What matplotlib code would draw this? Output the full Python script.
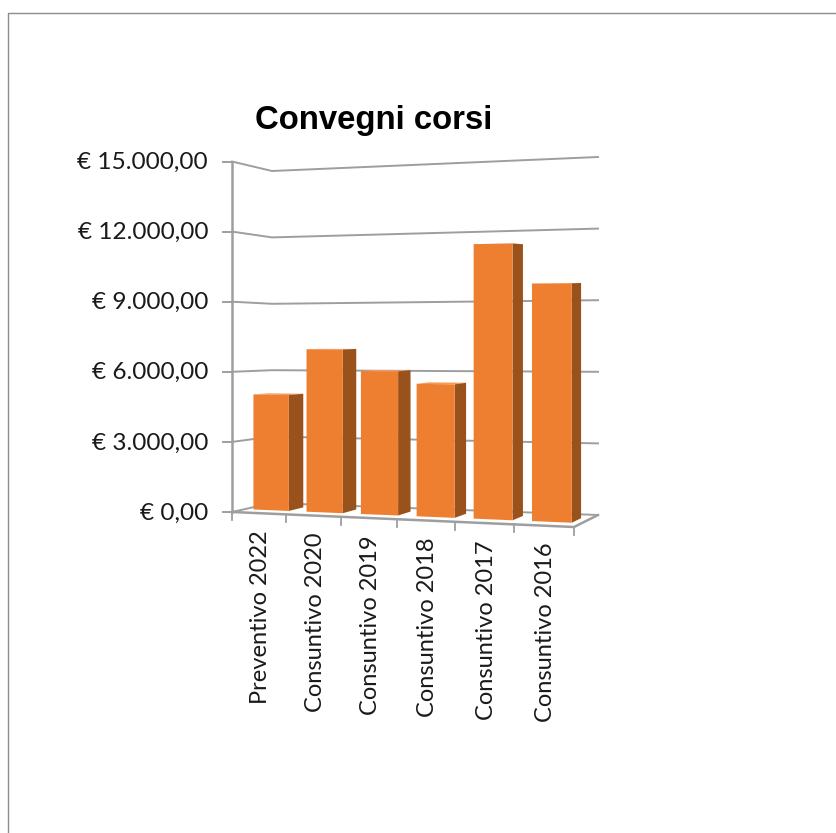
import matplotlib
matplotlib.use("Agg")
import matplotlib.pyplot as plt
from matplotlib.patches import Polygon

categories = ["Preventivo 2022", "Consuntivo 2020", "Consuntivo 2019",
              "Consuntivo 2018", "Consuntivo 2017", "Consuntivo 2016"]
values = [5000, 6980, 6070, 5560, 11390, 9740]
tick_values = [0, 3000, 6000, 9000, 12000, 15000]
tick_labels = ["€ 0,00", "€ 3.000,00", "€ 6.000,00", "€ 9.000,00", "€ 12.000,00", "€ 15.000,00"]
title = "Convegni corsi"

ORANGE = "#ee7f31"
ORANGE_DARK = "#9a521c"
ORANGE_TOP = "#f49a5c"
GRID = "#9e9e9e"
BORDER = "#8c8c8c"

# floor corners in pixels and wall height for the full value range at each corner
FRONT_L, FRONT_R, BACK_R, BACK_L = (232, 512), (574, 527), (598, 515), (272, 503)
H_FRONT_L, H_FRONT_R, H_BACK_R, H_BACK_L = 350.5, 375, 358, 332


def proj(u, v, value=0):
    # fake 3d view: u along categories, v into the back wall, value goes up
    t = u - 0.07 * u * (1 - u)
    x_front = FRONT_L[0] + (FRONT_R[0] - FRONT_L[0]) * t
    x_back = BACK_L[0] + (BACK_R[0] - BACK_L[0]) * t
    y_front = FRONT_L[1] + (FRONT_R[1] - FRONT_L[1]) * t
    y_back = BACK_L[1] + (BACK_R[1] - BACK_L[1]) * t
    h_front = H_FRONT_L + (H_FRONT_R - H_FRONT_L) * t
    h_back = H_BACK_L + (H_BACK_R - H_BACK_L) * t
    x = x_front + (x_back - x_front) * v
    y = y_front + (y_back - y_front) * v
    h = h_front + (h_back - h_front) * v
    return x, y - value / 15000 * h


fig = plt.figure(figsize=(8.36, 8.33), dpi=100)
ax = fig.add_axes([0, 0, 1, 1])
ax.set_xlim(0, 836)
ax.set_ylim(833, 0)
ax.axis("off")

# chart area border, only top and left fall inside the crop
ax.plot([8, 8, 836], [833, 12.5, 12.5], color=BORDER, lw=1)

# walls
for val in tick_values:
    pts = [proj(0, 0, val), proj(0, 1, val), proj(1, 1, val)]
    ax.plot([p[0] for p in pts], [p[1] for p in pts], color=GRID, lw=1.4, zorder=1)
    x0, y0 = proj(0, 0, val)
    ax.plot([x0 - 9, x0], [y0, y0], color=GRID, lw=1.4, zorder=1)

p0, p1 = proj(0, 0, 0), proj(0, 0, 15000)
ax.plot([p0[0], p1[0]], [p0[1], p1[1]], color=GRID, lw=1.8, zorder=2)

# floor edge and category ticks
pts = [proj(0, 0), proj(1, 0), proj(1, 1)]
ax.plot([p[0] for p in pts], [p[1] for p in pts], color=GRID, lw=1.8, zorder=2)
n = len(categories)
for i in range(n + 1):
    x0, y0 = proj(i / n, 0)
    ax.plot([x0, x0], [y0, y0 + 8], color=GRID, lw=1.3, zorder=2)

# bars
bar_w = 0.67
v0, v1 = 0.32, 0.70
for i, val in enumerate(values):
    u0 = (i + 0.5 - bar_w / 2) / n
    u1 = (i + 0.5 + bar_w / 2) / n
    front = [proj(u0, v0), proj(u1, v0), proj(u1, v0, val), proj(u0, v0, val)]
    side = [proj(u1, v0), proj(u1, v1), proj(u1, v1, val), proj(u1, v0, val)]
    top = [proj(u0, v0, val), proj(u1, v0, val), proj(u1, v1, val), proj(u0, v1, val)]
    ax.add_patch(Polygon(top, closed=True, fc=ORANGE_TOP, ec="none", zorder=3))
    ax.add_patch(Polygon(side, closed=True, fc=ORANGE_DARK, ec="none", zorder=3))
    ax.add_patch(Polygon(front, closed=True, fc=ORANGE, ec="none", zorder=4))

# labels
for val, label in zip(tick_values, tick_labels):
    x0, y0 = proj(0, 0, val)
    ax.text(208, y0 + 1, label, ha="right", va="center", family="Lato", fontsize=17.6, color="#1a1a1a")

for i, label in enumerate(categories):
    x0, y0 = proj((i + 0.5) / n, 0)
    ax.text(x0 + 2, y0 + 17, label, rotation=90, ha="center", va="top",
            family="Lato", fontsize=17, color="#1a1a1a")

ax.text(373.5, 120, title, ha="center", va="center", family="Liberation Sans",
        weight="bold", fontsize=23.7, color="black")

fig.savefig("out.png", dpi=100)
